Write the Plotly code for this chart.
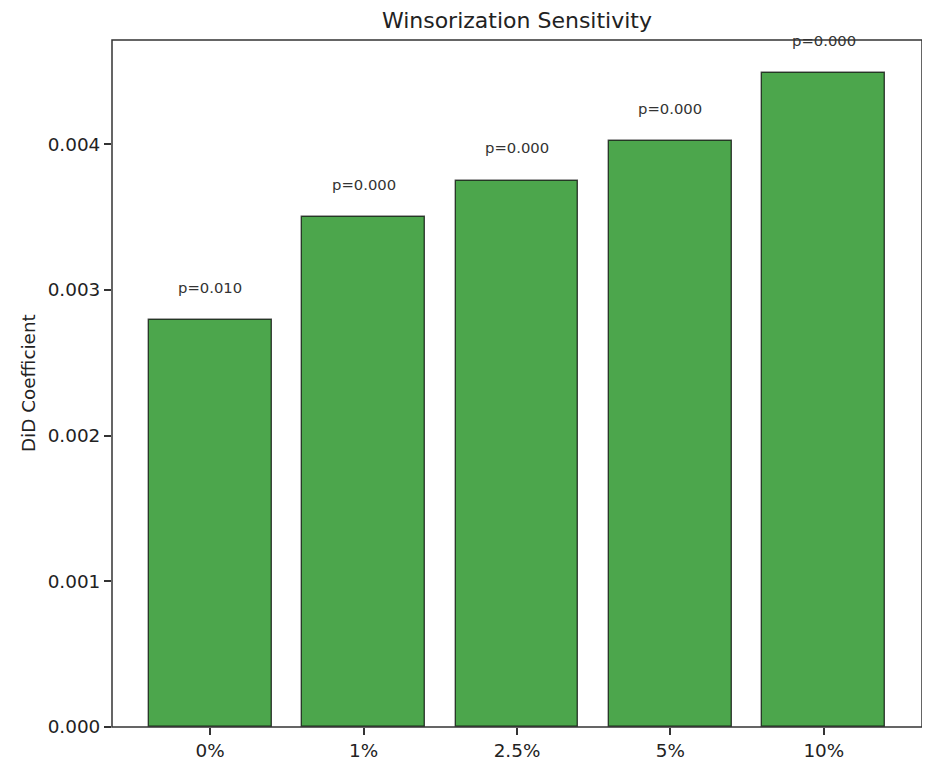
import plotly.graph_objects as go

# Winsorization levels and DiD estimates
levels = ["0%", "1%", "2.5%", "5%", "10%"]
coefs = [0.00279, 0.00350, 0.00375, 0.00402, 0.00449]
pvals = ["p=0.010", "p=0.000", "p=0.000", "p=0.000", "p=0.000"]

x_pos = list(range(len(levels)))

fig = go.Figure()
fig.add_trace(go.Bar(
    x=x_pos, y=coefs,
    width=0.8,
    marker=dict(color="rgba(0,128,0,0.7)",
                line=dict(color="rgba(0,0,0,0.7)", width=1.4)),
    showlegend=False,
))

# p-value labels just above each bar
for xi, c, p in zip(x_pos, coefs, pvals):
    fig.add_annotation(
        x=xi, y=c + 0.0002, text=p, showarrow=False,
        yanchor="bottom", yshift=-7, font=dict(size=14.8, color="#333"),
    )

# y axis label placed by hand
fig.add_annotation(
    xref="paper", yref="paper", x=-0.103, y=0.5, text="DiD Coefficient",
    textangle=-90, showarrow=False, xanchor="center", yanchor="middle",
    font=dict(size=18.4, color="#222"),
)

# axes frame
fig.add_shape(type="rect", xref="paper", yref="paper", x0=0, x1=1, y0=0, y1=1,
              line=dict(color="#333", width=1.5), layer="above")

axis_common = dict(
    showline=False, automargin=False,
    ticks="outside", ticklen=7, tickwidth=1.5, tickcolor="#333",
    showgrid=False, zeroline=False,
    tickfont=dict(size=18.4, color="#222"),
)

fig.update_xaxes(
    range=[-0.64, 4.64],
    tickvals=x_pos, ticktext=levels,
    **axis_common,
)
fig.update_yaxes(
    range=[0, max(coefs) * 1.05],
    tickvals=[0, 0.001, 0.002, 0.003, 0.004],
    tickformat=".3f",
    **axis_common,
)

# page body has an 8px margin; figure is sized so it fits in the window
fig.update_layout(
    title=dict(text="Winsorization Sensitivity", x=0.552, xanchor="center",
               y=0.984, yanchor="middle", font=dict(size=22, color="#222")),
    width=922, height=753,
    margin=dict(l=104, r=8, t=32, b=34),
    paper_bgcolor="white", plot_bgcolor="white",
    font=dict(family="DejaVu Sans"),
    bargap=0,
)

fig.write_html("out.html")
